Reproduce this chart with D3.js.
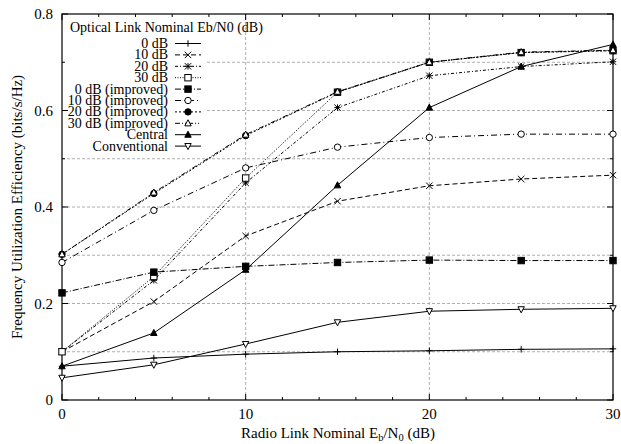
<!DOCTYPE html>
<html>
<head>
<meta charset="utf-8">
<script src="https://cdn.jsdelivr.net/npm/d3@7"></script>
<style>
  body { margin: 0; background: #fff; }
  svg text { font-family: "Liberation Serif", "Times New Roman", "DejaVu Serif", serif; }
</style>
</head>
<body>
<script>
const width = 621, height = 444;
const margin = { top: 14, right: 8, bottom: 44, left: 62 };
const serif = "Liberation Serif, Times New Roman, serif";

// radio link Eb/N0 (dB)
const radioEbN0 = [0, 5, 10, 15, 20, 25, 30];
const xTicks = [0, 10, 20, 30];
const yTicks = [0, 0.2, 0.4, 0.6, 0.8];

const seriesNames = [
  "0 dB", "10 dB", "20 dB", "30 dB",
  "0 dB (improved)", "10 dB (improved)", "20 dB (improved)", "30 dB (improved)",
  "Central", "Conventional"
];
const optical0 = [0.070, 0.087, 0.095, 0.100, 0.102, 0.105, 0.106];
const optical10 = [0.100, 0.204, 0.340, 0.412, 0.444, 0.458, 0.466];
const optical20 = [0.100, 0.248, 0.450, 0.606, 0.672, 0.691, 0.701];
const optical30 = [0.100, 0.256, 0.460, 0.638, 0.700, 0.720, 0.724];
const improved0 = [0.222, 0.265, 0.277, 0.285, 0.290, 0.289, 0.289];
const improved10 = [0.285, 0.393, 0.481, 0.524, 0.544, 0.551, 0.551];
const improved20 = [0.302, 0.428, 0.548, 0.638, 0.700, 0.720, 0.724];
const improved30 = [0.302, 0.430, 0.550, 0.639, 0.700, 0.721, 0.725];
const central = [0.070, 0.139, 0.270, 0.445, 0.606, 0.691, 0.737];
const conventional = [0.046, 0.073, 0.116, 0.161, 0.184, 0.188, 0.190];
const seriesValues = [optical0, optical10, optical20, optical30,
  improved0, improved10, improved20, improved30, central, conventional];

// line style per series: dash pattern and marker kind
const dashes = [null, "5,3", "3,2,1,2", "1,1.5", "6,2,1,2", "6,3,1,3", "2,2", "5,2,1,2,1,2", null, null];
const markers = ["plus", "cross", "star", "square", "fsquare", "circle", "fcircle", "triangle", "ftriangle", "dtriangle"];

const svg = d3.select("body").append("svg")
  .attr("width", width).attr("height", height)
  .attr("font-family", serif);

const x = d3.scaleLinear().domain([0, 30]).range([margin.left, width - margin.right]);
const y = d3.scaleLinear().domain([0, 0.8]).range([height - margin.bottom, margin.top]);

// grid
const grid = svg.append("g").attr("stroke", "#9a9a9a").attr("stroke-width", 0.8).attr("stroke-dasharray", "3,2");
grid.selectAll("line.gx").data([10, 20]).enter().append("line")
  .attr("x1", d => x(d)).attr("x2", d => x(d))
  .attr("y1", y(0)).attr("y2", y(0.8));
grid.selectAll("line.gy").data(d3.range(1, 8).map(d => d / 10)).enter().append("line")
  .attr("x1", x(0)).attr("x2", x(30))
  .attr("y1", d => y(d)).attr("y2", d => y(d));

// opaque key box (only the entries part)
svg.append("rect")
  .attr("x", x(0) + 1).attr("y", y(0.8) + 1)
  .attr("width", 144).attr("height", 138)
  .attr("fill", "#fff");

// axes with inward ticks, mirrored
const axisG = svg.append("g");
const xMinor = d3.range(0, 31, 2);
const yMinor = d3.range(0, 9).map(d => d / 10);
[[y(0), -1], [y(0.8), 1]].forEach(([yy, dir]) => {
  axisG.selectAll(null).data(xMinor).enter().append("line")
    .attr("x1", d => x(d)).attr("x2", d => x(d))
    .attr("y1", yy).attr("y2", d => yy + dir * (d % 10 === 0 ? 6 : 3))
    .attr("stroke", "#000");
});
[[x(0), 1], [x(30), -1]].forEach(([xx, dir]) => {
  axisG.selectAll(null).data(yMinor).enter().append("line")
    .attr("y1", d => y(d)).attr("y2", d => y(d))
    .attr("x1", xx).attr("x2", (d, i) => xx + dir * (i % 2 === 0 ? 6 : 3))
    .attr("stroke", "#000");
});
axisG.append("rect")
  .attr("x", x(0)).attr("y", y(0.8))
  .attr("width", x(30) - x(0)).attr("height", y(0) - y(0.8))
  .attr("fill", "none").attr("stroke", "#000").attr("stroke-width", 1.2);

axisG.selectAll("text.xt").data(xTicks).enter().append("text")
  .attr("x", d => x(d)).attr("y", y(0) + 19)
  .attr("text-anchor", "middle").attr("font-size", 15).text(d => d);
axisG.selectAll("text.yt").data(yTicks).enter().append("text")
  .attr("x", x(0) - 9).attr("y", d => y(d) + 5)
  .attr("text-anchor", "end").attr("font-size", 15).text(d => d);

// axis titles
const xt = svg.append("text").attr("x", 338).attr("y", 438)
  .attr("text-anchor", "middle").attr("font-size", 15);
xt.append("tspan").text("Radio Link Nominal E");
xt.append("tspan").attr("font-size", 10.5).attr("dy", 3).text("b");
xt.append("tspan").attr("dy", -3).text("/N");
xt.append("tspan").attr("font-size", 10.5).attr("dy", 3).text("0");
xt.append("tspan").attr("dy", -3).text(" (dB)");

svg.append("text")
  .attr("transform", `translate(22,${(y(0) + y(0.8)) / 2}) rotate(-90)`)
  .attr("text-anchor", "middle").attr("font-size", 15)
  .text("Frequency Utilization Efficiency (bits/s/Hz)");

// marker drawing
function drawMarker(g, kind, cx, cy) {
  const s = 3.2;
  const st = { stroke: "#000", "stroke-width": 1 };
  const add = (tag, attrs) => {
    const el = g.append(tag);
    Object.entries(Object.assign({}, st, attrs)).forEach(([k, v]) => el.attr(k, v));
    return el;
  };
  if (kind === "plus" || kind === "star") {
    add("path", { d: `M${cx - s},${cy}H${cx + s}M${cx},${cy - s}V${cy + s}`, fill: "none" });
  }
  if (kind === "cross" || kind === "star") {
    add("path", { d: `M${cx - s},${cy - s}L${cx + s},${cy + s}M${cx - s},${cy + s}L${cx + s},${cy - s}`, fill: "none" });
  }
  if (kind === "square" || kind === "fsquare") {
    add("rect", { x: cx - s, y: cy - s, width: 2 * s, height: 2 * s, fill: kind === "fsquare" ? "#000" : "#fff" });
  }
  if (kind === "circle" || kind === "fcircle") {
    add("circle", { cx: cx, cy: cy, r: s, fill: kind === "fcircle" ? "#000" : "#fff" });
  }
  if (kind === "triangle" || kind === "ftriangle") {
    add("path", { d: `M${cx},${cy - s * 1.1}L${cx + s},${cy + s * 0.8}L${cx - s},${cy + s * 0.8}Z`, fill: kind === "ftriangle" ? "#000" : "#fff" });
  }
  if (kind === "dtriangle") {
    add("path", { d: `M${cx},${cy + s * 1.1}L${cx + s},${cy - s * 0.8}L${cx - s},${cy - s * 0.8}Z`, fill: "#fff" });
  }
}

// data lines
const line = d3.line().x((d, i) => x(radioEbN0[i])).y(d => y(d));
const plot = svg.append("g");
seriesValues.forEach((vals, k) => {
  plot.append("path").datum(vals)
    .attr("d", line).attr("fill", "none").attr("stroke", "#000")
    .attr("stroke-width", 1)
    .attr("stroke-dasharray", dashes[k]);
});
seriesValues.forEach((vals, k) => {
  const g = plot.append("g");
  vals.forEach((v, i) => drawMarker(g, markers[k], x(radioEbN0[i]), y(v)));
});

// key
const key = svg.append("g").attr("font-size", 14);
key.append("text").attr("x", 70).attr("y", 32).text("Optical Link Nominal Eb/N0 (dB)");
seriesNames.forEach((name, k) => {
  const yy = 43.5 + k * 11.4;
  key.append("text").attr("x", 168).attr("y", yy + 4.5)
    .attr("text-anchor", "end").text(name);
  key.append("line")
    .attr("x1", 175).attr("x2", 201).attr("y1", yy).attr("y2", yy)
    .attr("stroke", "#000").attr("stroke-dasharray", dashes[k]);
  drawMarker(key.append("g"), markers[k], 188, yy);
});
</script>
</body>
</html>
